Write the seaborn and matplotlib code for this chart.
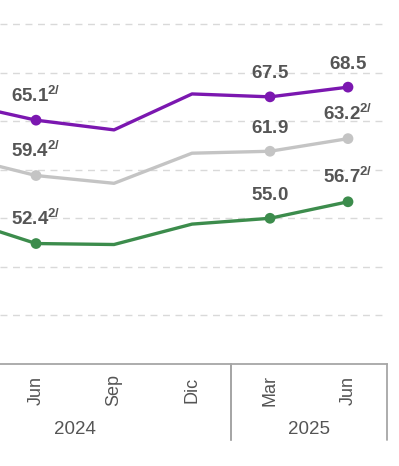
import matplotlib
matplotlib.use("Agg")
import matplotlib.pyplot as plt
import matplotlib.transforms as mtransforms
import pandas as pd
import seaborn as sns

# data (first point sits just left of the visible area)
months = ["Mar", "Jun", "Sep", "Dic", "Mar", "Jun"]
years = ["2024", "2024", "2024", "2024", "2025", "2025"]
serie_a = [66.9, 65.1, 64.1, 67.8, 67.5, 68.5]
serie_b = [61.4, 59.4, 58.6, 61.7, 61.9, 63.2]
serie_c = [55.0, 52.4, 52.3, 54.4, 55.0, 56.7]
# points that carry a label; True means the label has the "2/" note
labels_a = {1: True, 4: False, 5: False}
labels_b = {1: True, 4: False, 5: True}
labels_c = {1: True, 4: False, 5: True}

colors = {"A": "#7B17B0", "B": "#C4C4C4", "C": "#3C8C4C"}
text_color = "#555555"
axis_color = "#A6A6A6"

rows = []
for name, vals, labs in [("A", serie_a, labels_a), ("B", serie_b, labels_b), ("C", serie_c, labels_c)]:
    for i, v in enumerate(vals):
        rows.append({"serie": name, "pos": i, "valor": v,
                     "etiqueta": i in labs, "nota": labs.get(i, False)})
data = pd.DataFrame(rows)

sns.set_theme(style="white")
plt.rcParams["font.family"] = ["Liberation Sans", "DejaVu Sans"]
plt.rcParams["mathtext.fontset"] = "custom"
plt.rcParams["mathtext.rm"] = "Liberation Sans"
plt.rcParams["mathtext.bf"] = "Liberation Sans:bold"

fig = plt.figure(figsize=(3.99, 4.66), dpi=100)
ax = fig.add_axes([0, 102 / 466, 387 / 399, 364 / 466])

sns.lineplot(data=data, x="pos", y="valor", hue="serie", palette=colors,
             linewidth=2.4, legend=False, ax=ax, zorder=3)
sns.scatterplot(data=data[data["etiqueta"]], x="pos", y="valor", hue="serie",
                palette=colors, s=60, edgecolor="none", legend=False, ax=ax, zorder=4)

for _, r in data[data["etiqueta"]].iterrows():
    txt = rf"$\mathbf{{{r['valor']:.1f}}}$"
    if r["nota"]:
        txt = rf"$\mathbf{{{r['valor']:.1f}}}^{{\mathbf{{2/}}}}$"
    ax.annotate(txt, (r["pos"], r["valor"]), xytext=(0, 10.5), textcoords="offset points",
                ha="center", va="bottom", fontsize=13.5, color=text_color, zorder=5)

ax.set_yticks([45, 50, 55, 60, 65, 70, 75])
ax.set_yticklabels([])
ax.tick_params(axis="y", length=0)
ax.yaxis.grid(True, color="#D9D9D9", linestyle=(0, (5, 4)), linewidth=1)
ax.set_axisbelow(True)

ax.set_xticks(range(len(months)))
ax.set_xticklabels(months, rotation=90, va="center", fontsize=13, color=text_color)
ax.tick_params(axis="x", length=0, pad=19)
ax.set_xlabel("")
ax.set_ylabel("")

sns.despine(ax=ax, left=True)
ax.spines["bottom"].set_color(axis_color)
ax.spines["bottom"].set_linewidth(1.3)

# year groups under the months, with separators
trans = mtransforms.blended_transform_factory(ax.transData, ax.transAxes)
for yr in sorted(set(years)):
    idx = [i for i, y in enumerate(years) if y == yr]
    ax.text(sum(idx) / len(idx), -0.181, yr, transform=trans, ha="center", va="center",
            fontsize=13.5, color=text_color)
    for edge in (idx[0] - 0.5, idx[-1] + 0.5):
        ax.plot([edge, edge], [0, -0.209], transform=trans, color=axis_color,
                linewidth=1.3, clip_on=False)

# the reference is cropped: it starts between Mar and Jun 2024
ax.set_xlim(0.538, 5.5)
ax.set_ylim(40, 77.47)

fig.savefig("out.png", dpi=100)
plt.close(fig)
